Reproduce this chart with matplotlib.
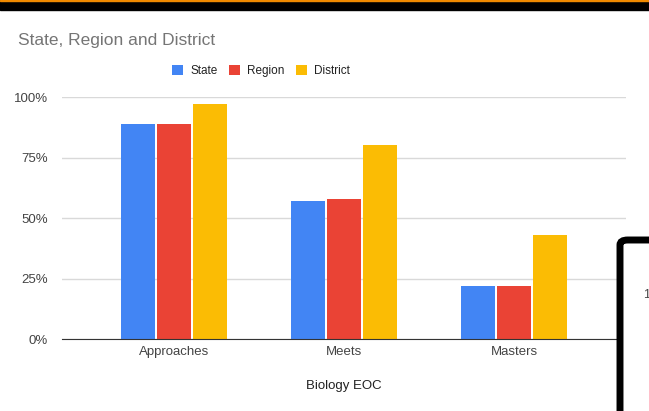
import matplotlib.pyplot as plt
import matplotlib.patches as mpatches
import numpy as np

plt.rcParams['font.family'] = ['Liberation Sans', 'DejaVu Sans']

# datos
categorias = ['Approaches', 'Meets', 'Masters']
state = [0.89, 0.57, 0.22]
region = [0.89, 0.58, 0.22]
district = [0.97, 0.80, 0.43]
ticks_y = [0, 0.25, 0.5, 0.75, 1.0]
ticks_y_txt = ['0%', '25%', '50%', '75%', '100%']

colores = ['#4285F4', '#EA4335', '#FBBC04']
nombres = ['State', 'Region', 'District']

fig = plt.figure(figsize=(6.49, 4.11), dpi=100)
ax = fig.add_axes([62/649, 1-339/411, (626-62)/649, (339-97)/411])

x = np.arange(len(categorias))
ancho = 0.2
sep = 0.212
for i, (serie, col) in enumerate(zip([state, region, district], colores)):
    ax.bar(x + (i-1)*sep, serie, ancho, color=col, label=nombres[i], zorder=3)

ax.set_xlim(-(174-62)/170, 2 + (626-514)/170)
ax.set_ylim(0, 1.0)
ax.set_yticks(ticks_y)
ax.set_yticklabels(ticks_y_txt)
ax.set_xticks(x)
ax.set_xticklabels(categorias)
ax.tick_params(length=0, labelsize=9.5, colors='#444444')
ax.tick_params(axis='y', pad=10)
ax.tick_params(axis='x', pad=5)
ax.grid(axis='y', color='#d9d9d9', linewidth=1, zorder=0)
for s in ['top', 'right', 'left']:
    ax.spines[s].set_visible(False)
ax.spines['bottom'].set_color('#333333')
ax.spines['bottom'].set_zorder(4)
ax.set_xlabel('Biology EOC', fontsize=9.5, color='#222222', labelpad=16)

fig.text(18/649, 1-41/411, 'State, Region and District', fontsize=12.5,
         color='#757575', va='center', ha='left')

leg = fig.legend(loc='center', bbox_to_anchor=(261/649, 1-71/411), ncol=3,
                 frameon=False, fontsize=8.5, handlelength=0.9, handleheight=0.9,
                 handletextpad=0.6, columnspacing=1.0, labelcolor='#222222')

# barra negra superior de la captura
fig.patches.append(mpatches.Rectangle((0, 1-10/411), 1, 10/411, transform=fig.transFigure,
                                      color='black', zorder=10))
fig.patches.append(mpatches.Rectangle((0, 1-1.5/411), 1, 1.5/411, transform=fig.transFigure,
                                      color='#f08a00', zorder=11))

# recuadro negro abajo a la derecha
fig.patches.append(mpatches.FancyBboxPatch((620/649, -0.1), 0.2, (411-240)/411 + 0.1,
                                           boxstyle='round,pad=0,rounding_size=0.012',
                                           transform=fig.transFigure, facecolor='white',
                                           edgecolor='black', linewidth=5, zorder=10))
fig.text(643/649, 1-295/411, '1', fontsize=9, color='#444444', va='center', zorder=12)

fig.savefig('out.png', dpi=100)
